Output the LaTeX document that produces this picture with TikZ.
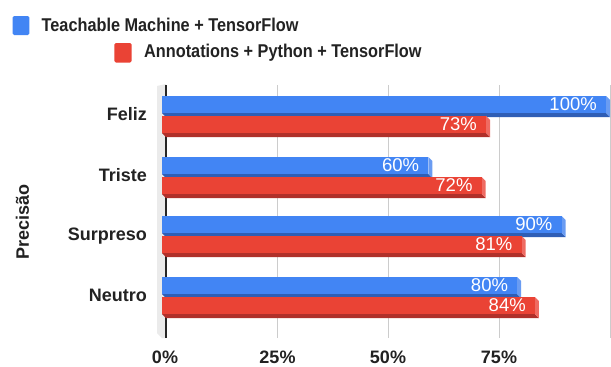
\documentclass[tikz,border=0pt]{standalone}
\usepackage{fontspec}
\setmainfont{Liberation Sans}
\newfontfamily\legendfont{Liberation Sans}[FakeStretch=0.88]
\definecolor{tfblue}{HTML}{4285F4}
\definecolor{tfbluedark}{HTML}{2F5EB5}
\definecolor{tfblueside}{HTML}{6A9CF2}
\definecolor{pyred}{HTML}{EA4335}
\definecolor{pyreddark}{HTML}{B0302A}
\definecolor{pyredside}{HTML}{EF6B62}
\definecolor{gridgray}{HTML}{CCCCCC}
\definecolor{wallgray}{HTML}{EBEBEB}
\definecolor{axistext}{HTML}{222222}

% #1 node name, #2 top y, #3 value (percent), #4 front colour, #5 bottom colour, #6 side colour
\newcommand\drawbar[6]{%
  \pgfmathsetmacro\xe{162+4.44*#3}
  \fill[#5] (162,#2+17) -- (\xe,#2+17) -- (\xe+4,#2+21) -- (166,#2+21) -- cycle;
  \fill[#6] (\xe,#2) -- (\xe+4,#2+4) -- (\xe+4,#2+21) -- (\xe,#2+17) -- cycle;
  \fill[#4] (162,#2) rectangle (\xe,#2+17);
  \node[vallabel] (#1) at (\xe-9,#2+14) {#3\%};
}

\begin{document}
\begin{tikzpicture}[x=1pt,y=-1pt,
  vallabel/.style={anchor=base east,inner sep=0pt,text=white,font=\fontsize{18.5}{20}\selectfont},
  catlabel/.style={anchor=base east,inner sep=0pt,text=axistext,font=\fontsize{18}{20}\selectfont\bfseries},
  ticklabel/.style={anchor=base,inner sep=0pt,text=axistext,font=\fontsize{18}{20}\selectfont\bfseries},
  legendtext/.style={anchor=base west,inner sep=0pt,text=axistext,font=\legendfont\fontsize{18.5}{20}\selectfont\bfseries},
  gridline/.style={draw=gridgray,line width=1pt}]
\useasboundingbox[fill=white] (0,0) rectangle (611,367);

% legend
\fill[tfblue,rounded corners=1.5pt] (12.7,16) rectangle (29.3,35);
\node[legendtext] (legA) at (41.5,31) {Teachable Machine + TensorFlow};
\fill[pyred,rounded corners=1.5pt] (114.3,43) rectangle (131.7,62.5);
\node[legendtext] (legB) at (144,57.7) {Annotations + Python + TensorFlow};

% back wall and grid
\fill[wallgray] (157,86) -- (166,84) -- (166,338) -- (162,338) -- (157,333) -- cycle;
\foreach \gx in {277.5,388,499,610}
  \draw[gridline] (\gx,85) -- (\gx,338);
\draw[black!85,line width=1.3pt] (166,85) -- (166,338);

% bars
\drawbar{fb}{96}{100}{tfblue}{tfbluedark}{tfblueside}
\drawbar{fr}{116}{73}{pyred}{pyreddark}{pyredside}
\drawbar{tb}{157}{60}{tfblue}{tfbluedark}{tfblueside}
\drawbar{tr}{177}{72}{pyred}{pyreddark}{pyredside}
\drawbar{sb}{216}{90}{tfblue}{tfbluedark}{tfblueside}
\drawbar{sr}{236}{81}{pyred}{pyreddark}{pyredside}
\drawbar{nb}{277}{80}{tfblue}{tfbluedark}{tfblueside}
\drawbar{nr}{297}{84}{pyred}{pyreddark}{pyredside}

% category labels
\node[catlabel] (cFeliz) at (147,120) {Feliz};
\node[catlabel] (cTriste) at (147,181) {Triste};
\node[catlabel] (cSurpreso) at (147,240) {Surpreso};
\node[catlabel] (cNeutro) at (147,301) {Neutro};

% axis title
\node[rotate=90,inner sep=0pt,text=axistext,font=\fontsize{18}{20}\selectfont\bfseries] (ytitle) at (22.5,222) {Precisão};

% tick labels
\node[ticklabel] (t0) at (165,363.5) {0\%};
\node[ticklabel] (t25) at (277.5,363.5) {25\%};
\node[ticklabel] (t50) at (388,363.5) {50\%};
\node[ticklabel] (t75) at (499,363.5) {75\%};
\end{tikzpicture}
\end{document}
